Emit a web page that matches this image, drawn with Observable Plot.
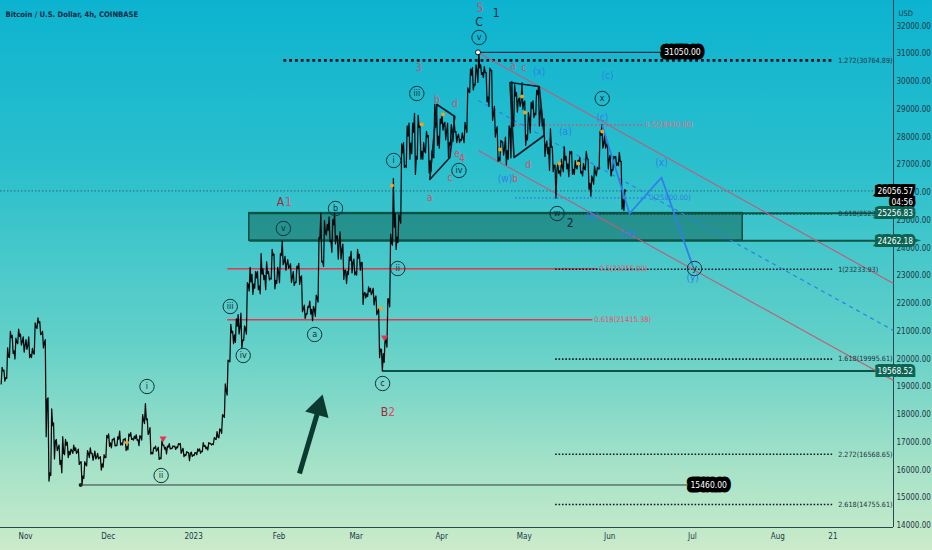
<!DOCTYPE html>
<html><head><meta charset="utf-8">
<script src="https://cdn.jsdelivr.net/npm/d3@7"></script>
<script src="https://cdn.jsdelivr.net/npm/@observablehq/plot@0.6"></script>
<style>
html,body{margin:0;padding:0;background:#7fd6c8;}
#chart{width:932px;height:550px;background:linear-gradient(180deg,#0cb3d0 0%,#2abfcd 30%,#62d0c8 62%,#a6e2c8 85%,#cbebca 100%);overflow:hidden;}
#chart svg{display:block;}
</style></head>
<body><div id="chart"></div>
<script>
// ---------- price data: daily [low, high, close] ----------
const firstOpen = 19200;
const oct22 = [[19100,19700,19570],[19200,19600,19330],[19300,20400,20080],[20050,21000,20770],[20200,20850,20290],[20000,20750,20600],[20550,21080,20810],[20500,20900,20630],[20250,20800,20490]];
const nov22 = [[20350,20700,20480],[20050,20800,20160],[20050,20380,20210],[20180,21300,21150],[21100,21480,21300],[20880,21350,20910],[20400,21000,20600],[17200,20700,18550],[15600,18600,15900],[15800,18200,17600],[16400,17700,17050],[16700,17100,16800],[16200,16900,16350],[15900,17200,16600],[16550,17100,16900],[16450,17000,16670],[16550,16750,16690],[16600,16900,16700],[16600,16800,16650],[16200,16750,16280],[15480,16300,15780],[15700,16300,16200],[16150,16700,16600],[16450,16800,16600],[16350,16600,16520],[16400,16680,16460],[16400,16600,16440],[16000,16480,16220],[16100,16550,16450],[16450,17250,17160]];
const dec22 = [[16850,17300,16980],[16800,17100,17090],[16870,17150,16890],[16880,17200,17110],[16900,17400,16970],[16900,17100,17090],[16700,17140,16840],[16730,17300,17220],[17100,17350,17130],[17080,17220,17130],[17080,17270,17090],[16880,17240,17200],[17080,18000,17790],[17670,18390,17810],[17280,17850,17360],[16570,17530,16630],[16580,16800,16780],[16680,16860,16740],[16380,16820,16440],[16400,17050,16900],[16750,16900,16820],[16580,16860,16830],[16760,16950,16780],[16770,16870,16840],[16740,16860,16830],[16800,16950,16920],[16600,16960,16700],[16480,16780,16550],[16520,16660,16630],[16340,16630,16600],[16490,16640,16540]];
const jan23 = [[16520,16630,16620],[16550,16760,16680],[16610,16760,16670],[16660,16990,16850],[16760,16880,16830],[16720,16990,16950],[16900,16960,16940],[16920,17170,17120],[17100,17380,17180],[17160,17480,17440],[17320,18000,17940],[17900,19100,18850],[18700,19960,19930],[19900,21250,20950],[20550,21000,20870],[20600,21450,21180],[20900,21600,21150],[20400,21650,20680],[20670,21190,21080],[20900,22750,22680],[22450,23300,22780],[22330,23050,22710],[22550,23150,22920],[22500,23150,22630],[22350,23800,23060],[22860,23250,23010],[22500,23500,23080],[22850,23150,22910],[22880,23950,23740],[22530,23780,22830],[22720,23300,23130]];
const feb23 = [[22750,23800,23730],[23400,24250,23490],[23200,23700,23430],[23270,23580,23330],[22760,23430,22940],[22650,23150,22760],[22750,23350,23260],[22690,23450,22960],[21700,22990,21800],[21460,21940,21630],[21620,21900,21860],[21620,22090,21790],[21380,21900,21790],[21540,22300,22200],[22050,24380,24330],[23500,25250,23520],[23340,24990,24570],[24470,24850,24630],[24230,25120,24280],[23850,25020,24830],[24150,25250,24440],[23600,24430,24180],[23600,24580,23930],[22870,24140,23190],[22720,23200,23160],[23050,23680,23550],[23100,23880,23490],[23030,23600,23140]];
const mar23 = [[23020,23950,23630],[23200,23770,23470],[21970,23480,22360],[22200,22400,22350],[22250,22600,22430],[22320,22550,22410],[21950,22550,22200],[21600,22270,21700],[20050,21800,20360],[19570,20350,20190],[19880,20800,20630],[20430,22180,22140],[21880,24500,24200],[24100,26500,24750],[23950,25250,24390],[24200,25200,25060],[24900,27750,27430],[26900,27800,26970],[26900,28400,28040],[27200,28500,27780],[27400,28500,28170],[26650,28850,27300],[27200,28780,28340],[27200,28400,27480],[27200,27800,27480],[27430,28200,28000],[26700,28050,27140],[26770,27500,27270],[27250,29180,28350],[27700,29170,28030],[27600,28650,28480]];
const apr23 = [[28250,28800,28470],[27900,28530,28200],[27270,28500,27800],[27700,28450,28170],[27850,28750,28170],[27800,28200,28030],[27800,28100,27910],[27880,28150,27950],[27800,28530,28330],[28170,29770,29650],[29600,30450,30230],[29700,30500,29900],[29870,30600,30400],[29970,31050,30490],[30250,30600,30320],[30150,30540,30320],[29270,30320,29440],[29100,30480,30390],[28600,30400,28820],[28000,29100,28250],[27120,28370,27270],[27140,27880,27820],[27350,27820,27590],[27000,28000,27510],[27200,28400,28300],[27250,30000,28420],[28380,29880,29470],[28900,29600,29340],[29100,29400,29240],[29000,29950,29230]];
const may23 = [[27700,29300,28070],[27900,28880,28680],[28150,29250,29030],[28700,29300,28850],[28800,29680,29530],[28400,29800,28900],[28400,29100,28460],[27300,28650,27700],[27400,27850,27630],[26800,28300,27630],[26750,27650,26990],[25800,26980,26800],[26700,27050,26780],[26600,27200,26920],[26750,27650,27170],[26850,27300,27030],[26570,27480,27400],[26650,27480,26830],[26650,27150,26890],[26850,27160,27110],[26700,27270,26750],[26600,27050,26850],[26820,27480,27220],[26120,27200,26330],[25870,26600,26480],[26300,26950,26720],[26600,26900,26850],[26850,28200,28060],[27600,28450,27750],[27600,28050,27700],[26850,27800,27210]];
const jun23 = [[26600,27350,26820],[26800,27300,27250],[26970,27300,27070],[26970,27450,27120],[25400,27120,25740],[25350,26100,26056.57]];
const firstDay = "2022-10-23";

// ---------- axes ----------
const yTicks = d3.range(14000, 32001, 1000);
const xTickDates = ["2022-11-01","2022-12-01","2023-01-01","2023-02-01","2023-03-01","2023-04-01","2023-05-01","2023-06-01","2023-07-01","2023-08-01","2023-08-21"];
const xTickLabels = ["Nov","Dec","2023","Feb","Mar","Apr","May","Jun","Jul","Aug","21"];
const xDomain = ["2022-10-22T22","2023-09-12"];
const yDomain = [13928, 32919];

// ---------- levels ----------
const fibLabels = ["1.272(30764.89)","0.618(25235.61)","1(23233.93)","1.618(19995.61)","2.272(16568.65)","2.618(14755.61)"];
const fibPrices = [30764.89, 25235.61, 23233.93, 19995.61, 16568.65, 14755.61];
const fibStarts = ["2023-02-02T14","2023-05-12T05","2023-05-12T05","2023-05-12T05","2023-05-12T05","2023-05-12T05"];
const fibEnd = "2023-08-21";
const fibLabelAt = "2023-08-22T22";

const redLabels = ["0.5(23255.00)","0.618(21415.38)"];
const redPrices = [23255, 21415.38];
const redStart = "2023-01-13T05";
const redEnds = ["2023-05-27T12","2023-05-25T17"];

const dotLabels = ["0.5(28430.00)","0(25800.00)"];
const dotPrices = [28430, 25800];
const dotStart = "2023-04-27T17";
const dotEnds = ["2023-06-13T00","2023-06-14T12"];
const dotKinds = ["red","blue"];

const zone = {from:"2023-01-21T05", to:"2023-07-19T07", low:24262.18, high:25256.83};
const greenLevels = [25256.83, 24262.18, 19568.52];
const greenStarts = ["2023-01-21T05","2023-01-21T05","2023-03-10T14"];

const peak = {date:"2023-04-14T05", price:31050, lineTo:"2023-06-20T05", labelAt:"2023-06-27T10", label:"31050.00"};
const low = {date:"2022-11-21", price:15460, lineTo:"2023-07-01", labelAt:"2023-07-06T22", label:"15460.00"};
const lastPrice = 26056.57;
const axisBoxPrices = [26056.57, 25256.83, 24262.18, 19568.52];
const axisBoxTexts = ["26056.57\n04:56","25256.83","24262.18","19568.52"];
const axisBoxKinds = ["black","green","green","green"];

// channel lines [date, price] -> [date, price]
const channelUpper = [["2023-04-14T05",31045],["2023-09-12",22719]];
const channelLower = [["2023-04-14T08",27514],["2023-09-12",19225]];
const channelMid = [["2023-04-14T08",29315],["2023-09-12",21027]];
const projection = [["2023-05-29T07",28414],["2023-06-08T05",25243],["2023-06-19T19",26541],["2023-07-01T02",23369]];
const triangle1 = [["2023-03-30T07",29171],["2023-04-05T19",28739],["2023-04-04T00",27261],["2023-03-27T17",26469],["2023-03-30T07",29171]];
const triangle2 = [["2023-04-25T19",29964],["2023-05-06T10",29820],["2023-05-08T05",28054],["2023-04-27T07",27261],["2023-04-25T19",29964]];
const arrowShaft = [["2023-02-08T10",15874],["2023-02-15T00",18072]];
const arrowHead = ["2023-02-15T10",18234];

const circled = [
 ["2022-12-15T02",19009,"i"],["2022-12-20T05",15802,"ii"],["2023-01-14T07",21892,"iii"],["2023-01-19T00",20126,"iv"],
 ["2023-02-02T14",24703,"v"],["2023-02-13T22",20883,"a"],["2023-02-21T12",25424,"b"],["2023-03-10T14",19117,"c"],
 ["2023-03-16T02",23261,"ii"],["2023-03-14T14",27153,"i"],["2023-03-23T00",29568,"iii"],["2023-04-07T07",26793,"iv"],
 ["2023-04-14T14",31586,"v"],["2023-05-29T07",29387,"x"],["2023-05-12T22",25243,"w"],["2023-07-01T19",23261,"y"]
];
const waveText = [
 ["2023-02-01T12",25640,"A","darkred"],["2023-02-04T10",25640,"1","red"],
 ["2023-03-11T07",18072,"B","darkred"],["2023-03-13T22",18072,"2","red"],
 ["2023-04-14T22",32640,"5","red"],["2023-04-14T14",32126,"C","navy"],["2023-04-20T19",32451,"1","navy"],
 ["2023-03-23T17",30505,"3","red"],["2023-03-30T07",29351,"b","red"],["2023-04-05T19",29207,"d","red"],
 ["2023-04-04T00",26541,"c","red"],["2023-04-06T14",27405,"e","red"],["2023-04-08T10",27225,"4","red"],
 ["2023-03-27T17",25820,"a","red"],["2023-04-26T22",30577,"a","red"],["2023-04-30T22",30505,"c","red"],
 ["2023-05-06T10",30360,"(x)","blue"],["2023-05-02T10",27009,"d","red"],["2023-04-24T00",26505,"(w)","blue"],
 ["2023-04-27T17",26505,"b","red"],["2023-05-15T22",28198,"(a)","blue"],["2023-05-31T05",30216,"(c)","blue"],
 ["2023-05-29T07",28703,"(c)","blue"],["2023-05-25T17",25171,"(b)","blue"],["2023-06-08T05",24522,"(w)","blue"],
 ["2023-05-17T17",24883,"2","navy"],["2023-06-19T19",27081,"(x)","blue"],["2023-07-01T02",22937,"(y)","blue"]
];
const orangeMarks = [["2022-12-07T19",16991],["2023-03-09T22",21820],["2023-03-14T00",26252],["2023-03-24T19",28450],["2023-04-01T12",28811],["2023-04-22T05",27550],["2023-04-30T05",29459],["2023-05-01T07",28883],["2023-05-13T17",27045],["2023-05-20T14",27045],["2023-05-29T07",28198]];
const redMarks = [["2022-12-20T22",17135],["2023-03-11T07",20775]];
const title = "Bitcoin / U.S. Dollar, 4h, COINBASE";

// ---------- helpers ----------
const t = s => new Date(s.length > 10 ? s + ":00Z" : s + "T00:00:00Z");
const pt = ([d, p]) => ({date: t(d), price: p});
const COL = {red:"#d94d67", darkred:"#9a2b3e", blue:"#2f7fe6", navy:"#13283a", black:"#000", green:"#0c6453"};
const FONT = "'Liberation Sans Narrow','DejaVu Sans Condensed','Roboto Condensed','Liberation Sans',sans-serif";

// price zigzag built from daily low/high/close
const days = [oct22, nov22, dec22, jan23, feb23, mar23, apr23, may23, jun23].flat();
const t0 = +t(firstDay), H = 3600e3;
const series = [];
let prev = firstOpen;
days.forEach(([lo, hi, cl], i) => {
  const base = t0 + i * 24 * H, up = cl >= prev;
  series.push({date: new Date(base + 4 * H), price: up ? lo : hi});
  series.push({date: new Date(base + 12 * H), price: up ? hi : lo});
  series.push({date: new Date(base + 20 * H), price: cl});
  prev = cl;
});

const fib = fibLabels.map((l, i) => ({label: l, price: fibPrices[i], x1: t(fibStarts[i]), x2: t(fibEnd), lx: t(fibLabelAt), top: i === 0}));
const reds = redLabels.map((l, i) => ({label: l, price: redPrices[i], x1: t(redStart), x2: t(redEnds[i])}));
const dots = dotLabels.map((l, i) => ({label: l, price: dotPrices[i], x1: t(dotStart), x2: t(dotEnds[i]), c: COL[dotKinds[i]]}));
const greens = greenLevels.map((p, i) => ({price: p, x1: t(greenStarts[i]), x2: t(xDomain[1])}));
const boxes = axisBoxPrices.map((p, i) => ({price: p, text: axisBoxTexts[i], c: COL[axisBoxKinds[i]]}));
const seg = a => ({x1: t(a[0][0]), y1: a[0][1], x2: t(a[1][0]), y2: a[1][1]});

const chart = Plot.plot({
  width: 932, height: 550,
  marginLeft: 0, marginRight: 39, marginTop: 0, marginBottom: 23,
  x: {type: "utc", domain: xDomain.map(t)},
  y: {domain: yDomain},
  style: {background: "transparent", fontFamily: FONT, fontSize: "8px", color: "#1b3646", overflow: "visible"},
  marks: [
    // frame lines
    Plot.ruleY([yDomain[0]], {stroke: "#2a4553", strokeWidth: 1, x2: t(xDomain[1]), dx: 0}),
    Plot.ruleX([t(xDomain[1])], {stroke: "#2a4553", strokeWidth: 1}),
    Plot.axisY({anchor: "right", ticks: yTicks, tickFormat: d3.format(".2f"), tickSize: 0, tickPadding: 3, fontSize: 8, fill: "#1b3646"}),
    Plot.axisX({ticks: xTickDates.map(t), tickFormat: d => xTickLabels[xTickDates.findIndex(s => +t(s) === +d)], tickSize: 0, tickPadding: 6, fontSize: 8, fill: "#1b3646"}),
    Plot.text(["USD"], {frameAnchor: "top-right", dx: 5, dy: 10, textAnchor: "start", fontSize: 7.5, fill: "#1b3646"}),
    // zone
    Plot.rect([zone], {x1: d => t(d.from), x2: d => t(d.to), y1: "low", y2: "high", fill: "#0d5a4b", fillOpacity: 0.48, stroke: "#0b4a3e", strokeWidth: 1.5}),
    // current price line
    Plot.ruleY([lastPrice], {stroke: "#23323c", strokeWidth: 0.8, strokeDasharray: "1.5,2", strokeOpacity: 0.8}),
    // red solid levels
    Plot.link(reds, {x1: "x1", x2: "x2", y1: "price", y2: "price", stroke: "#e6364f", strokeWidth: 1.6}),
    // fib dotted
    Plot.link(fib.filter(d => !d.top), {x1: "x1", x2: "x2", y1: "price", y2: "price", stroke: "#0e1a22", strokeWidth: 1.6, strokeDasharray: "1.6,1.8"}),
    Plot.link(fib.filter(d => d.top), {x1: "x1", x2: "x2", y1: "price", y2: "price", stroke: "#0b141a", strokeWidth: 2.8, strokeDasharray: "2.8,3"}),
    Plot.link(dots, {x1: "x1", x2: "x2", y1: "price", y2: "price", stroke: "c", strokeWidth: 1.6, strokeDasharray: "1.6,2.2"}),
    // green levels
    Plot.link(greens, {x1: "x1", x2: "x2", y1: "price", y2: "price", stroke: "#0b5445", strokeWidth: 2}),
    // 31050 and 15460 lines
    Plot.link([peak], {x1: d => t(d.date), x2: d => t(d.lineTo), y1: "price", y2: "price", stroke: "#1d2f52", strokeWidth: 1.3}),
    Plot.link([low], {x1: d => t(d.date), x2: d => t(d.lineTo), y1: "price", y2: "price", stroke: "#2c3e46", strokeWidth: 1}),
    // channels
    Plot.link([seg(channelUpper), seg(channelLower)], {x1: "x1", y1: "y1", x2: "x2", y2: "y2", stroke: "#c25a78", strokeWidth: 1.1}),
    Plot.link([seg(channelMid)], {x1: "x1", y1: "y1", x2: "x2", y2: "y2", stroke: "#2f7fe6", strokeWidth: 1.2, strokeDasharray: "4,4"}),
    // price
    Plot.line(series, {x: "date", y: "price", stroke: "#05090c", strokeWidth: 1.25}),
    // triangles
    Plot.line(triangle1.map(pt), {x: "date", y: "price", stroke: "#0c1a22", strokeWidth: 1.6}),
    Plot.line(triangle2.map(pt), {x: "date", y: "price", stroke: "#0c1a22", strokeWidth: 1.6}),
    // projection
    Plot.line(projection.map(pt), {x: "date", y: "price", stroke: "#2f7fe6", strokeWidth: 1.8}),
    // markers
    Plot.dot(orangeMarks.map(pt), {x: "date", y: "price", r: 2, fill: "#f2a21e"}),
    Plot.dot(redMarks.map(pt), {x: "date", y: "price", r: 2.6, symbol: "triangle", rotate: 180, fill: "#e6364f"}),
    Plot.dot([peak], {x: d => t(d.date), y: "price", r: 2.5, fill: "white", stroke: "#111", strokeWidth: 1}),
    Plot.dot([low], {x: d => t(d.date), y: "price", r: 2, fill: "#222"}),
    // arrow
    Plot.link([seg(arrowShaft)], {x1: "x1", y1: "y1", x2: "x2", y2: "y2", stroke: "#0b3a30", strokeWidth: 5}),
    Plot.dot([pt(arrowHead)], {x: "date", y: "price", symbol: "triangle", r: 9, rotate: 16, fill: "#0b3a30"}),
    // circled wave labels
    Plot.dot(circled.map(pt), {x: "date", y: "price", r: 7.2, stroke: "#10303a", strokeWidth: 1, fill: "none"}),
    Plot.text(circled, {x: d => t(d[0]), y: d => d[1], text: d => d[2], fontSize: 9, fill: "#10303a"}),
    // wave text
    Plot.text(waveText, {x: d => t(d[0]), y: d => d[1], text: d => d[2], fill: d => COL[d[3]], fontSize: d => d[3] === "navy" || d[3] === "darkred" || d[2] === "1" || d[2] === "2" || d[2] === "5" ? 12 : 10}),
    // level labels
    Plot.text(fib, {x: "lx", y: "price", text: "label", textAnchor: "start", fontSize: 7.2, fill: "#22343d"}),
    Plot.text(reds, {x: "x2", y: "price", text: "label", textAnchor: "start", dx: 2, fontSize: 7.5, fill: "#e6506a"}),
    Plot.text(dots, {x: "x2", y: "price", text: "label", textAnchor: "start", dx: 2, fontSize: 7.5, fill: d => d.c === COL.red ? "#e46e80" : "#2f7fe6"}),
    // price boxes in chart
    Plot.text([peak, low], {x: d => t(d.labelAt), y: "price", text: "label", fontSize: 8.5, fill: "white", stroke: "#000", strokeWidth: 9, strokeLinejoin: "round"}),
    // axis boxes
    Plot.text(boxes, {y: "price", text: "text", frameAnchor: "right", dx: 19.5, lineAnchor: "top", dy: -4.5, lineHeight: 1.3, fontSize: 8.3, fill: "white", stroke: "c", strokeWidth: 6, strokeLinejoin: "miter"}),
    // title
    Plot.text([title], {frameAnchor: "top-left", dx: 5, dy: 14, textAnchor: "start", lineAnchor: "middle", fontSize: 7.6, fontWeight: 600, fill: "#0f2a47"})
  ]
});
document.getElementById("chart").appendChild(chart);
</script>
</body></html>
